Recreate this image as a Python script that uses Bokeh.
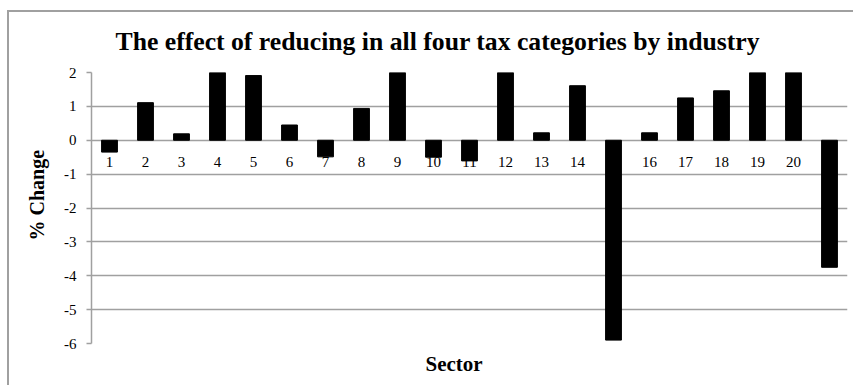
from bokeh.plotting import figure
from bokeh.models import Range1d, FixedTicker, Title, ColumnDataSource
from bokeh.embed import file_html
from bokeh.resources import INLINE
from bokeh.core.properties import value

# ---- data ----
sectors = [str(i) for i in range(1, 22)]
changes = [-0.35, 1.11, 0.19, 2.6, 1.91, 0.45, -0.49, 0.94, 2.5, -0.50, -0.61,
           2.4, 0.22, 1.61, -5.90, 0.22, 1.25, 1.46, 2.7, 2.3, -3.75]
y_ticks = [-6, -5, -4, -3, -2, -1, 0, 1, 2]
y_tick_labels = ["-6", "-5", "-4", "-3", "-2", "-1", "0", "1", "2"]
title_text = "The effect of reducing in all four tax categories by industry"
x_title = "Sector"
y_title = "% Change"

xs = list(range(1, len(sectors) + 1))
src = ColumnDataSource(dict(x=xs, top=changes, label=sectors, zero=[0] * len(xs)))

GRID = "#a0a0a0"
FONT = "Liberation Serif"

p = figure(width=846, height=375,
           x_range=Range1d(0.5, len(sectors) + 0.5), y_range=Range1d(-6, 2),
           x_axis_location=None,
           output_backend="svg", toolbar_location=None,
           min_border_left=82, min_border_right=8,
           min_border_top=60, min_border_bottom=44)
p.title = Title(text=title_text, align="left", offset=24, vertical_align="top",
                text_font=FONT, text_font_size="25.7px", text_font_style="bold",
                text_color="black", standoff=29)
p.outline_line_color = None
p.background_fill_color = "white"
p.border_fill_color = "white"
p.xgrid.visible = False

# y axis
ya = p.yaxis[0]
ya.ticker = FixedTicker(ticks=y_ticks)
ya.major_label_overrides = dict(zip(y_ticks, y_tick_labels))
ya.major_label_text_font = FONT
ya.major_label_text_font_size = "15px"
ya.major_label_text_color = "black"
ya.major_tick_out = 5
ya.major_tick_in = 0
ya.minor_tick_out = 0
ya.minor_tick_in = 0
ya.major_tick_line_color = GRID
ya.axis_line_color = GRID
ya.axis_line_width = 1.5
ya.major_tick_line_width = 1.5
ya.major_label_standoff = 10

p.ygrid.ticker = FixedTicker(ticks=y_ticks)
p.ygrid.grid_line_color = GRID
p.ygrid.grid_line_width = 1.5

p.add_layout(Title(text=y_title, align="left", offset=103,
                   text_font=FONT, text_font_size="20px", text_font_style="bold",
                   text_color="black", standoff=27), "left")
p.add_layout(Title(text=x_title, align="left", offset=334,
                   text_font=FONT, text_font_size="21px", text_font_style="bold",
                   text_color="black", standoff=12), "below")

# category labels next to zero line (drawn beneath the bars)
p.text(x="x", y="zero", text="label", source=src,
       text_font=value(FONT), text_font_size="15px", text_color="black",
       text_align="center", text_baseline="middle", y_offset=22)

# bars
p.vbar(x="x", top="top", width=0.44, source=src,
       fill_color="black", line_color="black")

p.margin = (10, 0, 0, 7)
p.styles = {"border-top": "2px solid #a0a0a0", "border-left": "2px solid #a0a0a0"}

open("out.html", "w").write(file_html(p, INLINE))
